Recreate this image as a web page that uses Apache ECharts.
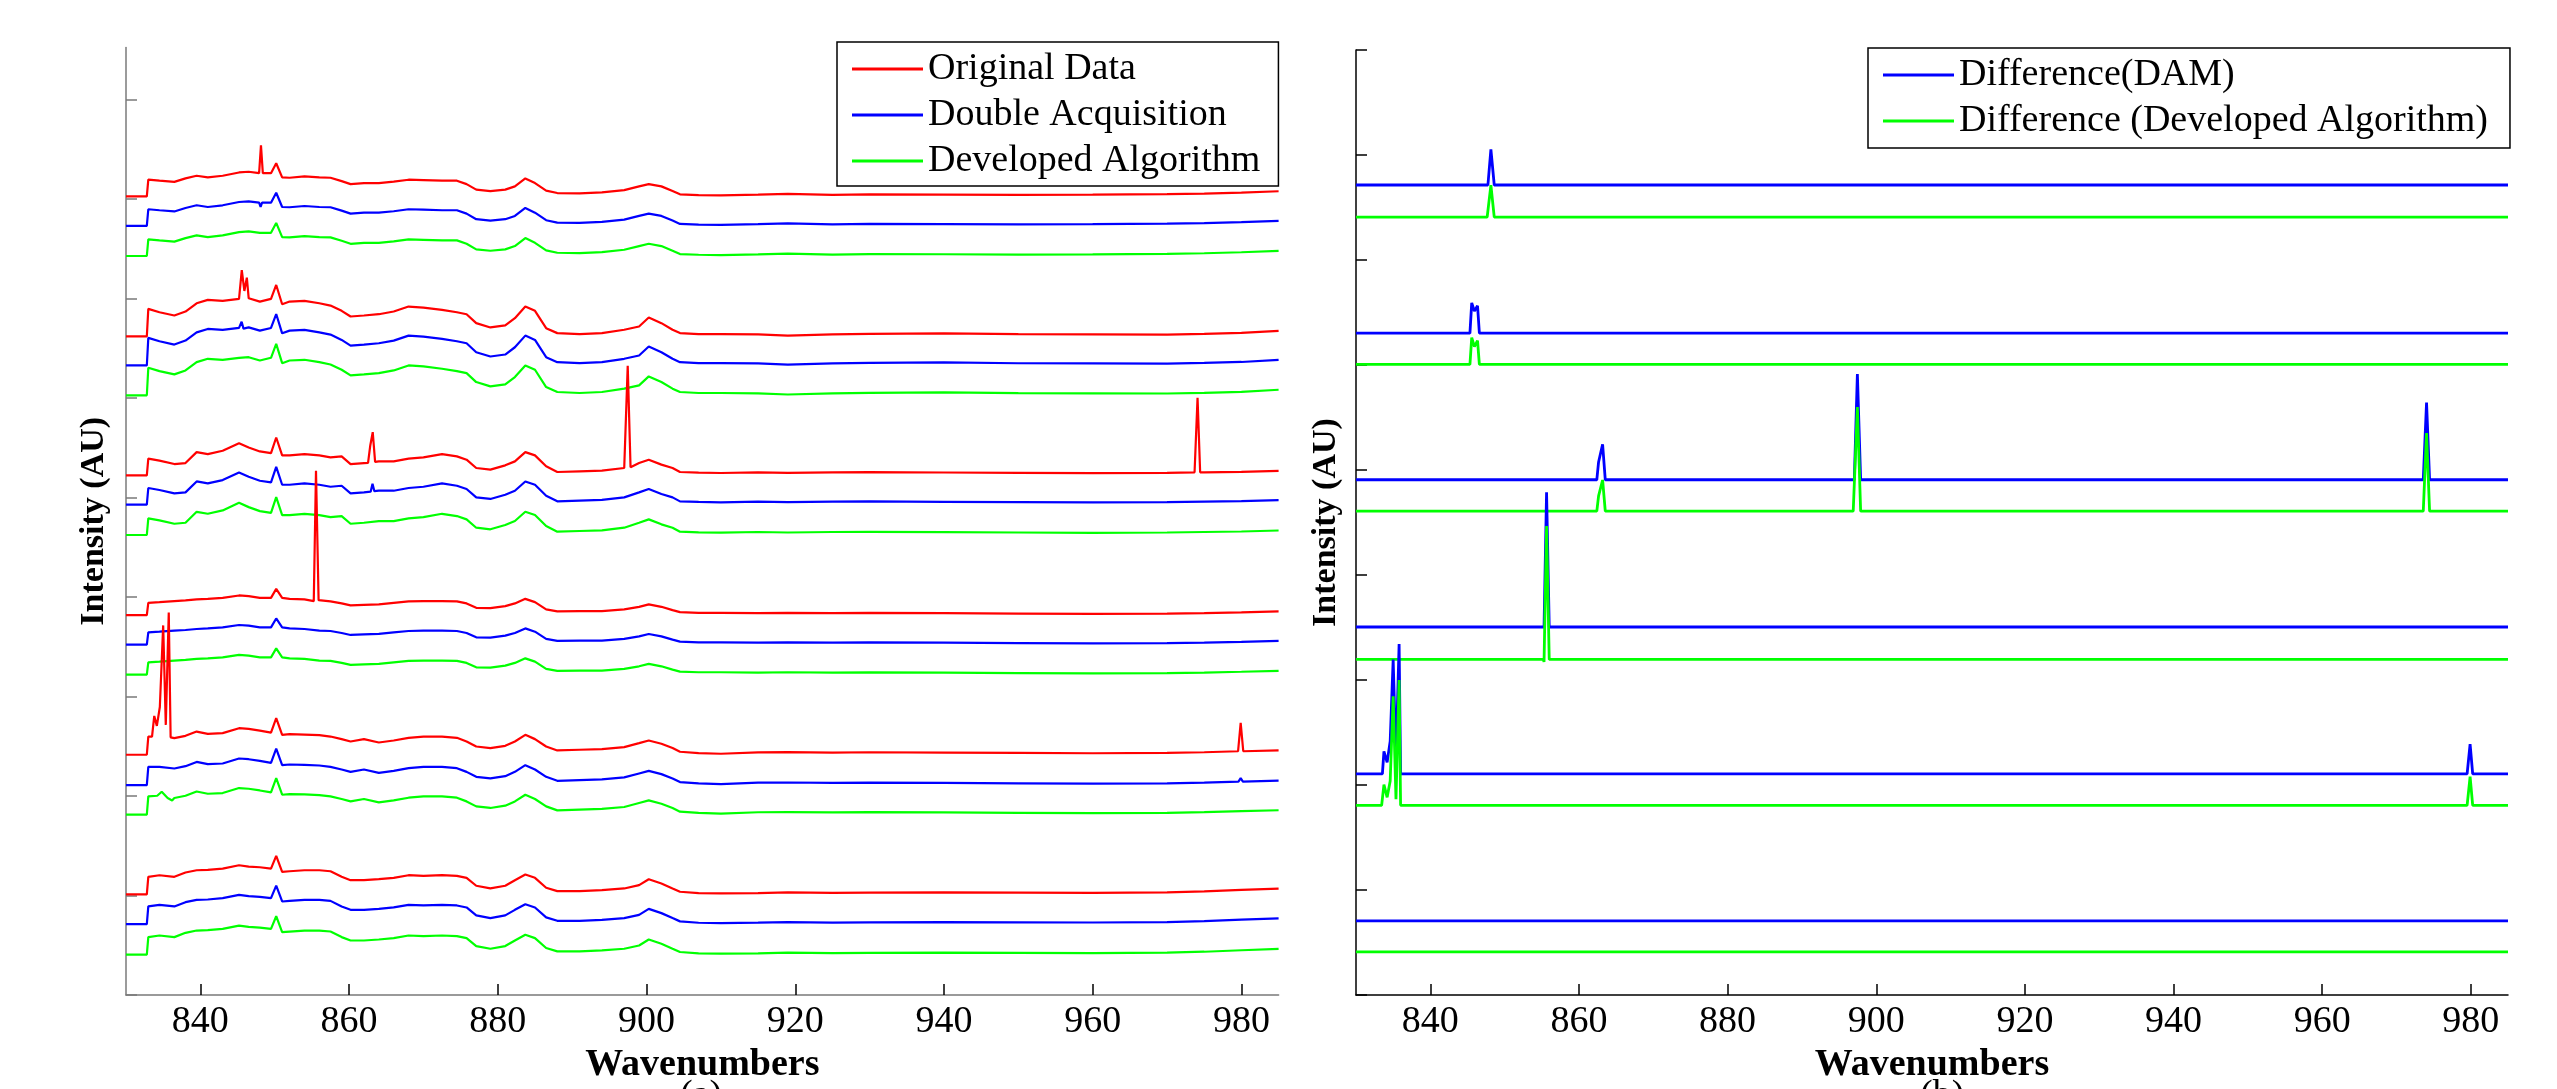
<!DOCTYPE html>
<html>
<head>
<meta charset="utf-8">
<script src="https://cdn.jsdelivr.net/npm/echarts@6/dist/echarts.min.js"></script>
<style>
  html, body { margin: 0; padding: 0; background: #fff; }
  #chart { width: 2557px; height: 1089px; }
</style>
</head>
<body>
<div id="chart"></div>
<script>
// wavenumber sample points shared by every spectrum
const waveGrid = [830, 832.8, 833, 834.5, 836.5, 838, 839.5, 841, 843, 845.2, 846.5, 848, 849.5, 850.2, 851, 852,
  854, 856, 857.5, 859, 860.2, 862, 864, 866, 868, 870, 872.5, 874.5, 875.8, 877.1, 879, 881, 882.3, 883.7, 885,
  886.5, 888, 891, 894, 897, 899, 900.3, 902, 903.5, 904.5, 907, 910,
  915, 919, 925, 930, 940, 950, 960, 970, 975, 980, 985];

// spectrum shape of each acquisition, relative to its own baseline (top group first)
const profile1 = [0, 0, 16.7, 15.7, 14.5, 18, 20.7, 19, 20.7, 24, 24.7, 23.3, 23.3, 33.3, 19, 18.7, 20, 19, 18.7, 15.3,
  12.3, 13.3, 13.3, 14.7, 16.7, 16.3, 15.7, 15.7, 12.3, 6.7, 5.3, 6.7, 10, 18, 13.3, 5.7, 3.3, 3, 4, 6.3, 10, 12.3, 10,
  5.3, 2, 1.3, 1, 1.7, 2.5, 1.5, 2, 1.8, 1.5, 1.7, 2.2, 2.8, 3.8, 5.1];
const profile2 = [0, 0, 27.7, 24.3, 21, 25, 33.3, 36.7, 35.7, 37.7, 38.3, 35, 37.7, 51.7, 32.3, 35, 35.7, 33.3, 31, 25.7,
  20, 21, 22.3, 25, 30, 29, 26.7, 24.3, 22.3, 13.3, 9, 11, 18.3, 30, 25.7, 8.3, 3.3, 2.3, 3.3, 6.7, 10, 19, 13.3, 6.7,
  3.3, 2.3, 2.3, 2, 0.8, 2, 2.5, 3, 2.2, 2, 1.8, 2.5, 3.5, 5.6];
const profile3 = [0, 0, 16.7, 14.7, 11.3, 12.3, 23.3, 21.3, 24.7, 32.3, 28, 24, 22.3, 38, 20, 20, 21.3, 20, 18, 19, 11.3,
  12.3, 14, 14, 16.7, 18, 21.3, 19, 15.7, 7.3, 5.7, 10, 14, 23.3, 20, 9, 3.3, 4, 4.7, 7.3, 12.3, 15.7, 10.7, 7.3, 3.3,
  2.7, 2.3, 3, 2.5, 3, 3.2, 2.8, 2.5, 2.2, 2.5, 3, 3.5, 4.5];
const profile4 = [0, 0, 12.3, 13, 14, 14.7, 15.7, 16.3, 17.3, 19.7, 19, 17.3, 17.3, 26.3, 17.3, 16.3, 15.7, 14, 13.7,
  11.7, 9.7, 10.3, 10.7, 12.3, 13.7, 14, 14, 13.7, 11.7, 7.3, 7, 9, 11.7, 16.3, 13, 5.7, 3.7, 4, 4, 5.7, 8.3, 10.7, 8.3,
  5, 3, 2.3, 2.3, 2, 2.3, 2, 2.2, 2, 1.5, 1.2, 1.5, 2, 2.8, 3.7];
const profile5 = [0, 0, 18.3, 18.3, 16.7, 19, 23.3, 21, 21.7, 26.7, 26, 24.3, 22.3, 36.7, 20, 20.7, 20.3, 19.7, 18.3,
  15.7, 13.3, 15.7, 12.3, 14.3, 17, 18.3, 18.3, 17, 13.3, 8.3, 6.7, 9, 13.3, 20, 15.7, 8.3, 4.3, 5, 5.7, 7.7, 11.7,
  14.3, 11, 6.7, 3, 1.7, 1, 2.4, 2.6, 2.2, 2.5, 2.2, 1.8, 1.5, 1.8, 2.5, 3.5, 4.4];
const profile6 = [0, 0, 17.7, 19.3, 17.7, 22, 24.3, 24.7, 26, 29.3, 28, 27.3, 26, 38.7, 22.7, 23.3, 24.3, 24.3, 23.3,
  17.7, 14.3, 14.3, 15.3, 16.7, 19.3, 18.7, 19.3, 18.7, 16.7, 8.7, 6, 8.7, 14.3, 20, 16.7, 6.7, 3.3, 3.3, 4.3, 6, 9.3,
  15.3, 11, 6, 2.7, 1.3, 1, 1.4, 2, 1.5, 1.8, 2, 1.8, 1.6, 2, 3, 4.5, 5.8];
const profiles = [profile1, profile2, profile3, profile4, profile5, profile6];

// stacked baselines (AU) of the three traces in each group
const originalBase = [802.9, 662.1, 522.5, 382, 241.6, 101.2];
const doubleBase = [773.2, 632.9, 493, 352.3, 211.1, 71.4];
const developedBase = [742.9, 602.9, 462.5, 322.2, 181.4, 40.6];

// cosmic ray spikes, [wavenumber, value above baseline]
const originalSpikes = [
  [[[847.9, 23.3], [848.15, 51.3], [848.4, 23.3]]],
  [[[845.3, 37.7], [845.57, 66.7], [845.92, 45.7], [846.25, 59], [846.5, 38.3]]],
  [[[862.55, 12.5], [862.85, 30], [863.18, 43.3], [863.5, 13.5]],
   [[897.1, 7.3], [897.47, 110], [897.85, 8]],
   [[973.7, 3], [974.1, 78], [974.45, 3]]],
  [[[855.25, 14], [855.55, 145], [855.9, 15]]],
  [[[833.5, 18.3], [833.8, 39], [834.15, 29], [834.55, 48], [835.0, 130], [835.35, 30], [835.75, 143], [836.0, 17.5]],
   [[979.55, 3.5], [979.9, 32], [980.25, 3.5]]],
  []
];
const doubleSpikes = [
  [[[847.9, 23.3], [848.1, 19], [848.3, 23.3]]],
  [[[845.3, 37], [845.55, 44], [845.8, 37]]],
  [[[862.9, 13], [863.15, 21], [863.4, 13.5]]],
  [],
  [[[979.6, 3.5], [979.9, 7], [980.2, 3.5]]],
  []
];
const developedSpikes = [
  [], [], [], [],
  [[[834.2, 19], [834.8, 23], [835.6, 16.7], [836.2, 14.3]]],
  []
];

// difference panel
const damBase = [814.3, 665.4, 518, 370, 222.4, 74.7];
const algBase = [782.1, 634, 486.4, 337.4, 190.8, 43.5];
const damSpikes = [
  [[[847.75, 0], [848.15, 35.7], [848.6, 0]]],
  [[[845.33, 0], [845.57, 30.4], [845.93, 22.1], [846.35, 27.5], [846.6, 0]]],
  [[[862.4, 0], [862.64, 17.9], [863.18, 35.7], [863.54, 0]],
   [[897.05, 0], [897.46, 106.4], [897.9, 0]],
   [[973.6, 0], [974.04, 77.5], [974.45, 0]]],
  [[[855.3, 0], [855.64, 135.4], [856.0, 0]]],
  [[[833.55, 0], [833.76, 22.5], [834.19, 11.6], [834.6, 32.7], [835.0, 115], [835.38, 15], [835.8, 130.6], [836.0, 0]],
   [[979.5, 0], [979.9, 29.8], [980.25, 0]]],
  []
];
const algSpikes = [
  [[[847.65, 0], [847.75, -1], [848.15, 32], [848.6, 0]]],
  [[[845.33, 0], [845.57, 26.8], [845.93, 17.9], [846.35, 23.9], [846.6, 0]]],
  [[[862.4, 0], [862.64, 15.4], [863.18, 31.4], [863.54, 0]],
   [[896.9, 0], [897.0, -2], [897.46, 104.6], [897.9, 0]],
   [[973.6, 0], [974.04, 78.6], [974.45, 0]]],
  [[[855.2, 0], [855.3, -2.5], [855.64, 134], [856.0, 0]]],
  [[[833.45, 0], [833.55, -2], [833.76, 20.7], [834.19, 8], [834.6, 24.3], [835.0, 109.6], [835.38, 6], [835.8, 125.9], [836.0, 0]],
   [[979.5, 0], [979.9, 28.7], [980.25, 0]]],
  []
];

const xTicks = [840, 860, 880, 900, 920, 940, 960, 980];
const leftTicks = [0, 100, 200, 300, 400, 500, 600, 700, 800, 900];
const rightTicks = [0, 105.6, 211.1, 316.7, 422.2, 527.8, 633.3, 738.9, 844.4, 950];

const serif = "'Liberation Serif', 'Times New Roman', serif";

// spectrum points: profile on the grid, spikes replace the grid inside their range
function spectrum(profile, base, spikes) {
  const pts = [];
  waveGrid.forEach((x, i) => {
    const inSpike = spikes.some(s => x >= s[0][0] && x <= s[s.length - 1][0]);
    if (!inSpike) pts.push([x, base + profile[i]]);
  });
  spikes.forEach(s => s.forEach(p => pts.push([p[0], base + p[1]])));
  pts.sort((a, b) => a[0] - b[0]);
  return pts;
}

function difference(base, spikes) {
  const pts = [[830, base], [985, base]];
  spikes.forEach(s => s.forEach(p => pts.push([p[0], base + p[1]])));
  pts.sort((a, b) => a[0] - b[0]);
  return pts;
}

function line(name, color, width, axis, data) {
  return {
    name: name, type: 'line', xAxisIndex: axis, yAxisIndex: axis,
    data: data, symbol: 'none', silent: true,
    lineStyle: { color: color, width: width },
    itemStyle: { color: color }
  };
}

const series = [];
for (let g = 0; g < 6; g++) {
  series.push(line('Original Data', '#ff0000', 2.2, 0, spectrum(profiles[g], originalBase[g], originalSpikes[g])));
  series.push(line('Double Acquisition', '#0000ff', 2.2, 0, spectrum(profiles[g], doubleBase[g], doubleSpikes[g])));
  series.push(line('Developed Algorithm', '#00ff00', 2.2, 0, spectrum(profiles[g], developedBase[g], developedSpikes[g])));
}
for (let g = 0; g < 6; g++) {
  series.push(line('Difference(DAM)', '#0000ff', 2.8, 1, difference(damBase[g], damSpikes[g])));
  series.push(line('Difference (Developed Algorithm)', '#00ff00', 2.8, 1, difference(algBase[g], algSpikes[g])));
}

function xAxis(grid, axisColor) {
  return {
    type: 'value', gridIndex: grid, min: 830, max: 985,
    name: 'Wavenumbers', nameLocation: 'middle', nameGap: 42,
    nameTextStyle: { fontFamily: serif, fontSize: 38, fontWeight: 'bold', color: '#000' },
    axisLine: { lineStyle: { color: axisColor, width: 1.5 } },
    axisTick: { inside: true, length: 11, customValues: xTicks, lineStyle: { color: '#000', width: 1.5 } },
    axisLabel: { customValues: xTicks, margin: 8, fontFamily: serif, fontSize: 38, color: '#000' },
    splitLine: { show: false }
  };
}

function yAxis(grid, max, ticks, axisColor, gap) {
  return {
    type: 'value', gridIndex: grid, min: 0, max: max,
    name: 'Intensity (AU)', nameLocation: 'middle', nameGap: gap,
    nameTextStyle: { fontFamily: serif, fontSize: 34, fontWeight: 'bold', color: '#000' },
    axisLine: { lineStyle: { color: axisColor, width: 1.5 } },
    axisTick: { inside: true, length: 11, customValues: ticks, lineStyle: { color: axisColor, width: 1.5 } },
    axisLabel: { show: false },
    splitLine: { show: false }
  };
}

const legendBase = {
  orient: 'vertical', icon: 'rect', itemWidth: 71, itemHeight: 3, itemGap: 6,
  borderColor: '#000', borderWidth: 1.5, backgroundColor: '#fff', selectedMode: false,
  textStyle: { fontFamily: serif, fontSize: 38, lineHeight: 40, color: '#000' }
};

const chart = echarts.init(document.getElementById('chart'));
chart.setOption({
  animation: false,
  backgroundColor: '#fff',
  grid: [
    { left: 126, top: 47.5, width: 1152.6, height: 952.5 },
    { left: 1356, top: 50, width: 1152, height: 950 }
  ],
  xAxis: [xAxis(0, '#7a7a7a'), xAxis(1, '#000')],
  yAxis: [yAxis(0, 952.5, leftTicks, '#7a7a7a', 15), yAxis(1, 950, rightTicks, '#000', 13)],
  legend: [
    Object.assign({}, legendBase, {
      data: ['Original Data', 'Double Acquisition', 'Developed Algorithm'],
      left: 837, top: 42, padding: [7, 18, 5, 15]
    }),
    Object.assign({}, legendBase, {
      data: ['Difference(DAM)', 'Difference (Developed Algorithm)'],
      left: 1868, top: 48, padding: [7, 22, 7, 15]
    })
  ],
  graphic: [
    { type: 'text', left: 680, top: 1077, style: { text: '(a)', font: '38px ' + serif, fill: '#000' } },
    { type: 'text', left: 1920, top: 1077, style: { text: '(b)', font: '38px ' + serif, fill: '#000' } }
  ],
  series: series
});
</script>
</body>
</html>
